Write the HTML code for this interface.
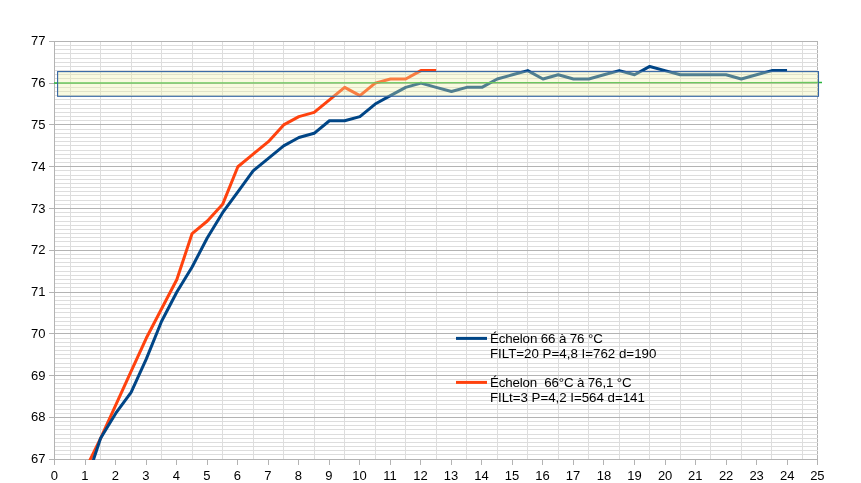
<!DOCTYPE html>
<html><head><meta charset="utf-8"><title>chart</title>
<style>html,body{margin:0;padding:0;background:#fff}svg{display:block;will-change:transform}text{font-family:"Liberation Sans",sans-serif;fill:#000}</style></head><body>
<svg width="861" height="483" viewBox="0 0 861 483">
<rect width="861" height="483" fill="#fff"/>
<g shape-rendering="crispEdges">
<rect x="817" y="41" width="1" height="419" fill="#b3b3b3"/>
<rect x="54" y="45" width="764" height="1" fill="#dddddd"/>
<rect x="54" y="49" width="764" height="1" fill="#dddddd"/>
<rect x="54" y="53" width="764" height="1" fill="#dddddd"/>
<rect x="54" y="58" width="764" height="1" fill="#dddddd"/>
<rect x="54" y="62" width="764" height="1" fill="#dddddd"/>
<rect x="54" y="66" width="764" height="1" fill="#dddddd"/>
<rect x="54" y="70" width="764" height="1" fill="#dddddd"/>
<rect x="54" y="74" width="764" height="1" fill="#dddddd"/>
<rect x="54" y="78" width="764" height="1" fill="#dddddd"/>
<rect x="54" y="87" width="764" height="1" fill="#dddddd"/>
<rect x="54" y="91" width="764" height="1" fill="#dddddd"/>
<rect x="54" y="95" width="764" height="1" fill="#dddddd"/>
<rect x="54" y="99" width="764" height="1" fill="#dddddd"/>
<rect x="54" y="104" width="764" height="1" fill="#dddddd"/>
<rect x="54" y="108" width="764" height="1" fill="#dddddd"/>
<rect x="54" y="112" width="764" height="1" fill="#dddddd"/>
<rect x="54" y="116" width="764" height="1" fill="#dddddd"/>
<rect x="54" y="120" width="764" height="1" fill="#dddddd"/>
<rect x="54" y="129" width="764" height="1" fill="#dddddd"/>
<rect x="54" y="133" width="764" height="1" fill="#dddddd"/>
<rect x="54" y="137" width="764" height="1" fill="#dddddd"/>
<rect x="54" y="141" width="764" height="1" fill="#dddddd"/>
<rect x="54" y="145" width="764" height="1" fill="#dddddd"/>
<rect x="54" y="150" width="764" height="1" fill="#dddddd"/>
<rect x="54" y="154" width="764" height="1" fill="#dddddd"/>
<rect x="54" y="158" width="764" height="1" fill="#dddddd"/>
<rect x="54" y="162" width="764" height="1" fill="#dddddd"/>
<rect x="54" y="170" width="764" height="1" fill="#dddddd"/>
<rect x="54" y="175" width="764" height="1" fill="#dddddd"/>
<rect x="54" y="179" width="764" height="1" fill="#dddddd"/>
<rect x="54" y="183" width="764" height="1" fill="#dddddd"/>
<rect x="54" y="187" width="764" height="1" fill="#dddddd"/>
<rect x="54" y="191" width="764" height="1" fill="#dddddd"/>
<rect x="54" y="195" width="764" height="1" fill="#dddddd"/>
<rect x="54" y="200" width="764" height="1" fill="#dddddd"/>
<rect x="54" y="204" width="764" height="1" fill="#dddddd"/>
<rect x="54" y="212" width="764" height="1" fill="#dddddd"/>
<rect x="54" y="216" width="764" height="1" fill="#dddddd"/>
<rect x="54" y="221" width="764" height="1" fill="#dddddd"/>
<rect x="54" y="225" width="764" height="1" fill="#dddddd"/>
<rect x="54" y="229" width="764" height="1" fill="#dddddd"/>
<rect x="54" y="233" width="764" height="1" fill="#dddddd"/>
<rect x="54" y="237" width="764" height="1" fill="#dddddd"/>
<rect x="54" y="241" width="764" height="1" fill="#dddddd"/>
<rect x="54" y="246" width="764" height="1" fill="#dddddd"/>
<rect x="54" y="254" width="764" height="1" fill="#dddddd"/>
<rect x="54" y="258" width="764" height="1" fill="#dddddd"/>
<rect x="54" y="262" width="764" height="1" fill="#dddddd"/>
<rect x="54" y="266" width="764" height="1" fill="#dddddd"/>
<rect x="54" y="271" width="764" height="1" fill="#dddddd"/>
<rect x="54" y="275" width="764" height="1" fill="#dddddd"/>
<rect x="54" y="279" width="764" height="1" fill="#dddddd"/>
<rect x="54" y="283" width="764" height="1" fill="#dddddd"/>
<rect x="54" y="287" width="764" height="1" fill="#dddddd"/>
<rect x="54" y="296" width="764" height="1" fill="#dddddd"/>
<rect x="54" y="300" width="764" height="1" fill="#dddddd"/>
<rect x="54" y="304" width="764" height="1" fill="#dddddd"/>
<rect x="54" y="308" width="764" height="1" fill="#dddddd"/>
<rect x="54" y="312" width="764" height="1" fill="#dddddd"/>
<rect x="54" y="317" width="764" height="1" fill="#dddddd"/>
<rect x="54" y="321" width="764" height="1" fill="#dddddd"/>
<rect x="54" y="325" width="764" height="1" fill="#dddddd"/>
<rect x="54" y="329" width="764" height="1" fill="#dddddd"/>
<rect x="54" y="338" width="764" height="1" fill="#dddddd"/>
<rect x="54" y="342" width="764" height="1" fill="#dddddd"/>
<rect x="54" y="346" width="764" height="1" fill="#dddddd"/>
<rect x="54" y="350" width="764" height="1" fill="#dddddd"/>
<rect x="54" y="354" width="764" height="1" fill="#dddddd"/>
<rect x="54" y="358" width="764" height="1" fill="#dddddd"/>
<rect x="54" y="363" width="764" height="1" fill="#dddddd"/>
<rect x="54" y="367" width="764" height="1" fill="#dddddd"/>
<rect x="54" y="371" width="764" height="1" fill="#dddddd"/>
<rect x="54" y="379" width="764" height="1" fill="#dddddd"/>
<rect x="54" y="383" width="764" height="1" fill="#dddddd"/>
<rect x="54" y="388" width="764" height="1" fill="#dddddd"/>
<rect x="54" y="392" width="764" height="1" fill="#dddddd"/>
<rect x="54" y="396" width="764" height="1" fill="#dddddd"/>
<rect x="54" y="400" width="764" height="1" fill="#dddddd"/>
<rect x="54" y="404" width="764" height="1" fill="#dddddd"/>
<rect x="54" y="409" width="764" height="1" fill="#dddddd"/>
<rect x="54" y="413" width="764" height="1" fill="#dddddd"/>
<rect x="54" y="421" width="764" height="1" fill="#dddddd"/>
<rect x="54" y="425" width="764" height="1" fill="#dddddd"/>
<rect x="54" y="429" width="764" height="1" fill="#dddddd"/>
<rect x="54" y="434" width="764" height="1" fill="#dddddd"/>
<rect x="54" y="438" width="764" height="1" fill="#dddddd"/>
<rect x="54" y="442" width="764" height="1" fill="#dddddd"/>
<rect x="54" y="446" width="764" height="1" fill="#dddddd"/>
<rect x="54" y="450" width="764" height="1" fill="#dddddd"/>
<rect x="54" y="454" width="764" height="1" fill="#dddddd"/>
<rect x="70" y="41" width="1" height="419" fill="#dddddd"/>
<rect x="100" y="41" width="1" height="419" fill="#dddddd"/>
<rect x="131" y="41" width="1" height="419" fill="#dddddd"/>
<rect x="161" y="41" width="1" height="419" fill="#dddddd"/>
<rect x="192" y="41" width="1" height="419" fill="#dddddd"/>
<rect x="222" y="41" width="1" height="419" fill="#dddddd"/>
<rect x="253" y="41" width="1" height="419" fill="#dddddd"/>
<rect x="283" y="41" width="1" height="419" fill="#dddddd"/>
<rect x="314" y="41" width="1" height="419" fill="#dddddd"/>
<rect x="344" y="41" width="1" height="419" fill="#dddddd"/>
<rect x="375" y="41" width="1" height="419" fill="#dddddd"/>
<rect x="405" y="41" width="1" height="419" fill="#dddddd"/>
<rect x="436" y="41" width="1" height="419" fill="#dddddd"/>
<rect x="466" y="41" width="1" height="419" fill="#dddddd"/>
<rect x="497" y="41" width="1" height="419" fill="#dddddd"/>
<rect x="527" y="41" width="1" height="419" fill="#dddddd"/>
<rect x="558" y="41" width="1" height="419" fill="#dddddd"/>
<rect x="588" y="41" width="1" height="419" fill="#dddddd"/>
<rect x="619" y="41" width="1" height="419" fill="#dddddd"/>
<rect x="649" y="41" width="1" height="419" fill="#dddddd"/>
<rect x="680" y="41" width="1" height="419" fill="#dddddd"/>
<rect x="710" y="41" width="1" height="419" fill="#dddddd"/>
<rect x="741" y="41" width="1" height="419" fill="#dddddd"/>
<rect x="771" y="41" width="1" height="419" fill="#dddddd"/>
<rect x="802" y="41" width="1" height="419" fill="#dddddd"/>
<rect x="49" y="41" width="769" height="1" fill="#b3b3b3"/>
<rect x="49" y="83" width="769" height="1" fill="#b3b3b3"/>
<rect x="49" y="124" width="769" height="1" fill="#b3b3b3"/>
<rect x="49" y="166" width="769" height="1" fill="#b3b3b3"/>
<rect x="49" y="208" width="769" height="1" fill="#b3b3b3"/>
<rect x="49" y="250" width="769" height="1" fill="#b3b3b3"/>
<rect x="49" y="292" width="769" height="1" fill="#b3b3b3"/>
<rect x="49" y="333" width="769" height="1" fill="#b3b3b3"/>
<rect x="49" y="375" width="769" height="1" fill="#b3b3b3"/>
<rect x="49" y="417" width="769" height="1" fill="#b3b3b3"/>
<rect x="49" y="459" width="769" height="1" fill="#b3b3b3"/>
<rect x="54" y="41" width="1" height="424" fill="#b3b3b3"/>
<rect x="54" y="459" width="1" height="6" fill="#b3b3b3"/>
<rect x="85" y="459" width="1" height="6" fill="#b3b3b3"/>
<rect x="115" y="459" width="1" height="6" fill="#b3b3b3"/>
<rect x="146" y="459" width="1" height="6" fill="#b3b3b3"/>
<rect x="176" y="459" width="1" height="6" fill="#b3b3b3"/>
<rect x="207" y="459" width="1" height="6" fill="#b3b3b3"/>
<rect x="237" y="459" width="1" height="6" fill="#b3b3b3"/>
<rect x="268" y="459" width="1" height="6" fill="#b3b3b3"/>
<rect x="298" y="459" width="1" height="6" fill="#b3b3b3"/>
<rect x="329" y="459" width="1" height="6" fill="#b3b3b3"/>
<rect x="359" y="459" width="1" height="6" fill="#b3b3b3"/>
<rect x="390" y="459" width="1" height="6" fill="#b3b3b3"/>
<rect x="420" y="459" width="1" height="6" fill="#b3b3b3"/>
<rect x="451" y="459" width="1" height="6" fill="#b3b3b3"/>
<rect x="481" y="459" width="1" height="6" fill="#b3b3b3"/>
<rect x="512" y="459" width="1" height="6" fill="#b3b3b3"/>
<rect x="542" y="459" width="1" height="6" fill="#b3b3b3"/>
<rect x="573" y="459" width="1" height="6" fill="#b3b3b3"/>
<rect x="603" y="459" width="1" height="6" fill="#b3b3b3"/>
<rect x="634" y="459" width="1" height="6" fill="#b3b3b3"/>
<rect x="665" y="459" width="1" height="6" fill="#b3b3b3"/>
<rect x="695" y="459" width="1" height="6" fill="#b3b3b3"/>
<rect x="726" y="459" width="1" height="6" fill="#b3b3b3"/>
<rect x="756" y="459" width="1" height="6" fill="#b3b3b3"/>
<rect x="787" y="459" width="1" height="6" fill="#b3b3b3"/>
<rect x="817" y="459" width="1" height="6" fill="#b3b3b3"/>
</g>
<defs><clipPath id="c"><rect x="54" y="41" width="764" height="419"/></clipPath></defs>
<polyline points="85.32,469.62 100.58,438.29 115.83,404.86 131.09,371.44 146.34,338.01 161.60,308.77 176.85,279.52 192.11,233.56 207.36,221.03 222.62,204.32 237.87,166.72 253.12,154.18 268.38,141.65 283.63,124.94 298.89,116.58 314.15,112.40 329.40,99.87 344.66,87.33 359.91,95.69 375.17,83.16 390.42,78.98 405.68,78.98 420.93,70.62 436.19,70.62" fill="none" stroke="#ff420e" stroke-width="3" stroke-linejoin="round" stroke-linecap="butt" clip-path="url(#c)"/>
<polyline points="85.32,484.24 100.58,438.29 115.83,413.22 131.09,392.33 146.34,358.90 161.60,321.30 176.85,292.06 192.11,266.99 207.36,237.74 222.62,212.67 237.87,191.78 253.12,170.89 268.38,158.36 283.63,145.82 298.89,137.47 314.15,133.29 329.40,120.76 344.66,120.76 359.91,116.58 375.17,104.05 390.42,95.69 405.68,87.33 420.93,83.16 436.19,87.33 451.44,91.51 466.70,87.33 481.95,87.33 497.21,78.98 512.46,74.80 527.72,70.62 542.97,78.98 558.23,74.80 573.48,78.98 588.74,78.98 603.99,74.80 619.25,70.62 634.50,74.80 649.76,66.44 665.01,70.62 680.27,74.80 695.52,74.80 710.78,74.80 726.03,74.80 741.29,78.98 756.54,74.80 771.80,70.62 787.05,70.62" fill="none" stroke="#004586" stroke-width="3" stroke-linejoin="round" stroke-linecap="butt" clip-path="url(#c)"/>
<line x1="54" y1="83" x2="822" y2="82.5" stroke="#28b43c" stroke-width="1.3"/>
<rect x="57.6" y="71.6" width="760.9" height="24.7" fill="#ecf0a5" fill-opacity="0.34" stroke="#3465a4" stroke-width="1.1"/>
<g opacity="0.999">
<text x="45.5" y="45.42" font-size="13" text-anchor="end">77</text>
<text x="45.5" y="87.20" font-size="13" text-anchor="end">76</text>
<text x="45.5" y="128.99" font-size="13" text-anchor="end">75</text>
<text x="45.5" y="170.77" font-size="13" text-anchor="end">74</text>
<text x="45.5" y="212.55" font-size="13" text-anchor="end">73</text>
<text x="45.5" y="254.33" font-size="13" text-anchor="end">72</text>
<text x="45.5" y="296.11" font-size="13" text-anchor="end">71</text>
<text x="45.5" y="337.89" font-size="13" text-anchor="end">70</text>
<text x="45.5" y="379.67" font-size="13" text-anchor="end">69</text>
<text x="45.5" y="421.44" font-size="13" text-anchor="end">68</text>
<text x="45.5" y="463.23" font-size="13" text-anchor="end">67</text>
<text x="54.31" y="480" font-size="13" text-anchor="middle">0</text>
<text x="84.82" y="480" font-size="13" text-anchor="middle">1</text>
<text x="115.33" y="480" font-size="13" text-anchor="middle">2</text>
<text x="145.84" y="480" font-size="13" text-anchor="middle">3</text>
<text x="176.35" y="480" font-size="13" text-anchor="middle">4</text>
<text x="206.86" y="480" font-size="13" text-anchor="middle">5</text>
<text x="237.37" y="480" font-size="13" text-anchor="middle">6</text>
<text x="267.88" y="480" font-size="13" text-anchor="middle">7</text>
<text x="298.39" y="480" font-size="13" text-anchor="middle">8</text>
<text x="328.90" y="480" font-size="13" text-anchor="middle">9</text>
<text x="359.41" y="480" font-size="13" text-anchor="middle">10</text>
<text x="389.92" y="480" font-size="13" text-anchor="middle">11</text>
<text x="420.43" y="480" font-size="13" text-anchor="middle">12</text>
<text x="450.94" y="480" font-size="13" text-anchor="middle">13</text>
<text x="481.45" y="480" font-size="13" text-anchor="middle">14</text>
<text x="511.96" y="480" font-size="13" text-anchor="middle">15</text>
<text x="542.47" y="480" font-size="13" text-anchor="middle">16</text>
<text x="572.98" y="480" font-size="13" text-anchor="middle">17</text>
<text x="604.09" y="480" font-size="13" text-anchor="middle">18</text>
<text x="634.50" y="480" font-size="13" text-anchor="middle">19</text>
<text x="665.11" y="480" font-size="13" text-anchor="middle">20</text>
<text x="695.32" y="480" font-size="13" text-anchor="middle">21</text>
<text x="726.13" y="480" font-size="13" text-anchor="middle">22</text>
<text x="756.64" y="480" font-size="13" text-anchor="middle">23</text>
<text x="787.15" y="480" font-size="13" text-anchor="middle">24</text>
<text x="817.36" y="480" font-size="13" text-anchor="middle">25</text>
<line x1="456" y1="338.4" x2="487" y2="338.4" stroke="#004586" stroke-width="3"/>
<line x1="456" y1="382.4" x2="487" y2="382.4" stroke="#ff420e" stroke-width="3"/>
<text x="489.9" y="342.6" font-size="13.33" textLength="112.9" lengthAdjust="spacing">Échelon 66 à 76 °C</text>
<text x="489.9" y="357.8" font-size="13.33">FILT=20 P=4,8 I=762 d=190</text>
<text x="489.9" y="386.7" font-size="13.33" xml:space="preserve" style="white-space:pre" textLength="141.7" lengthAdjust="spacing">Échelon  66°C à 76,1 °C</text>
<text x="489.9" y="401.6" font-size="13.33" textLength="155.0" lengthAdjust="spacing">FILt=3 P=4,2 I=564 d=141</text>
</g>
</svg></body></html>
